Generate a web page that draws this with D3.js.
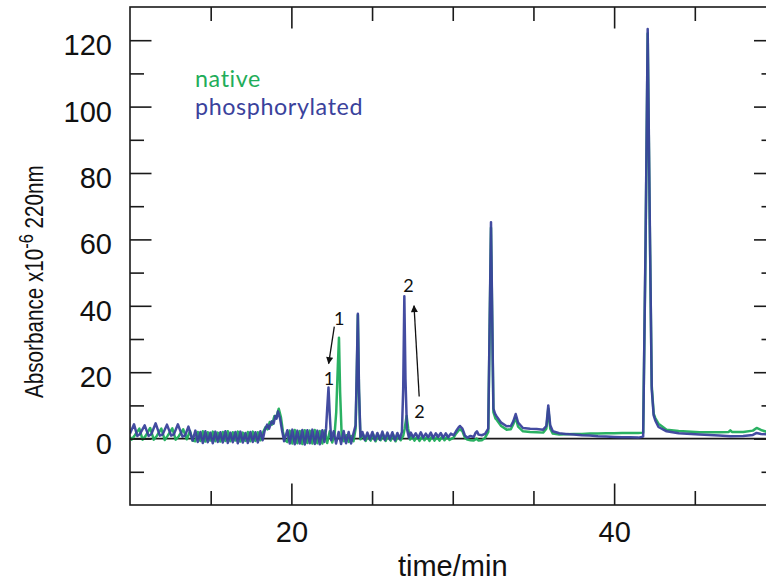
<!DOCTYPE html>
<html><head><meta charset="utf-8">
<script src="https://cdn.jsdelivr.net/npm/d3@7"></script>
<style>
html,body{margin:0;padding:0;background:#fff;}
svg{display:block;}
</style></head>
<body>
<svg id="chart" width="766" height="581"></svg>
<script>
// ---------- DATA ----------
const seriesNames = ["native", "phosphorylated"];
const seriesColors = ["#1fad5a", "#3a429c"];

const yMajorTicks = [0, 20, 40, 60, 80, 100, 120];
const yMinorTicks = [-10, 10, 30, 50, 70, 90, 110];
const xMajorTicks = [20, 40];
const xMinorTicks = [15, 25, 30, 35, 45];

// [time/min, absorbance]
const nativeData = [
[10.00,0.5],[10.10,-0.3],[10.30,1.0],[10.58,3.0],[10.78,-0.3],[10.98,0.9],[11.25,3.2],[11.47,-0.3],[11.66,0.8],[11.94,3.0],[12.15,-0.4],[12.34,0.9],[12.62,3.1],[12.83,-0.3],[13.02,0.7],[13.30,2.8],[13.52,-0.2],[13.72,2.3],[13.88,-0.6],
[14.05,-0.8],[14.20,2.0],[14.36,-0.7],[14.51,2.2],[14.67,-0.9],[14.82,1.9],[14.98,-0.6],[15.13,2.1],[15.29,-0.8],[15.44,1.8],[15.60,-0.9],[15.75,2.0],[15.91,-0.7],[16.06,2.2],[16.22,-0.8],[16.37,1.9],[16.53,-0.6],[16.68,2.1],[16.84,-0.9],[16.99,1.8],[17.15,-0.7],[17.30,2.0],[17.46,-0.8],[17.61,2.1],[17.77,-0.7],[17.92,1.9],[18.08,-0.5],
[18.25,2.0],[18.40,3.5],[18.52,2.8],[18.66,5.0],[18.80,4.2],[18.95,6.8],[19.05,6.2],[19.22,9.0],[19.35,6.5],[19.48,2.0],[19.60,-0.5],
[19.75,-1.0],[19.90,2.4],[20.06,-1.5],[20.21,2.6],[20.37,-1.4],[20.52,2.3],[20.68,-1.6],[20.83,2.5],[20.99,-1.3],[21.14,2.4],[21.30,-1.5],[21.45,2.6],[21.61,-1.4],[21.76,2.3],[21.92,-1.5],[22.07,2.4],[22.22,-1.3],[22.38,2.2],[22.53,-1.2],[22.68,1.5],
[22.78,8],[22.88,22],[22.95,30.4],[23.02,14],[23.12,0.5],
[23.25,-0.8],[23.40,1.0],[23.55,-1.0],[23.70,0.8],[23.85,-0.8],
[23.98,3],[24.05,18],[24.12,37.2],[24.19,14],[24.28,-0.2],
[24.45,1.2],[24.60,-0.7],[24.76,1.0],[24.91,-0.6],[25.07,1.3],[25.22,-0.8],[25.38,1.1],[25.53,-0.5],[25.69,1.2],[25.84,-0.7],[26.00,1.0],[26.15,-0.6],[26.31,1.2],[26.46,-0.8],[26.62,1.0],[26.77,-0.5],[26.93,0.8],
[27.02,3],[27.14,6.8],[27.24,3],[27.35,-0.3],
[27.48,0.8],[27.63,-0.6],[27.79,0.6],[27.94,-0.7],[28.10,0.7],[28.25,-0.5],[28.41,0.6],[28.56,-0.7],[28.72,0.8],[28.87,-0.6],[29.03,0.5],[29.18,-0.6],[29.34,0.7],[29.49,-0.5],[29.65,0.6],[29.80,-0.4],
[30.05,0.3],[30.20,1.5],[30.35,2.4],[30.45,2.8],[30.60,2.2],[30.75,0.3],[30.90,-0.3],[31.10,-0.5],[31.30,-0.6],[31.48,0.0],[31.60,-0.6],[31.80,-0.5],[32.00,0.2],[32.20,2.0],[32.37,63.5],[32.52,8],[32.65,6.0],[32.72,5.7],[33.00,3.8],[33.34,2.7],[33.60,2.8],[33.75,4.3],[33.90,6.3],[34.05,3.6],[34.35,2.2],[34.80,2.0],[35.20,1.9],[35.60,1.8],[35.80,3.0],[35.92,9.0],[36.04,3.0],[36.20,1.5],[36.60,1.2],[37.00,1.3],[37.50,1.4],[38.00,1.4],[38.50,1.5],[39.00,1.5],[39.50,1.6],[40.00,1.6],[40.50,1.7],[41.00,1.7],[41.50,1.7],[41.80,1.8],
[41.95,58],[42.08,122],[42.20,68],[42.33,16],[42.45,7.5],[42.55,6.2],[42.75,4.5],[43.25,2.7],[44.00,2.3],[45.30,1.9],[46.50,1.9],[47.10,2.0],[47.20,2.5],[47.30,2.0],[48.00,2.0],[48.60,2.4],[48.83,3.2],[49.10,2.6],[49.60,1.8]
];

const phosData = [
[10.00,1.5],[10.25,4.3],[10.45,0.8],[10.62,1.4],[10.91,4.0],[11.15,0.8],[11.32,1.3],[11.59,4.6],[11.85,0.9],[12.02,1.2],[12.29,4.2],[12.55,0.9],[12.72,1.3],[12.97,4.3],[13.25,0.6],[13.42,1.0],[13.62,3.6],[13.88,-0.6],
[14.05,2.4],[14.20,-1.0],[14.36,2.0],[14.51,-1.3],[14.67,2.2],[14.82,-1.1],[14.98,1.8],[15.13,-1.4],[15.29,2.1],[15.44,-1.0],[15.60,1.9],[15.75,-1.2],[15.91,2.2],[16.06,-1.3],[16.22,1.8],[16.37,-1.1],[16.53,2.0],[16.68,-1.4],[16.84,2.1],[16.99,-1.2],[17.15,1.7],[17.30,-1.3],[17.46,2.0],[17.61,-1.0],[17.77,1.9],[17.92,-1.2],[18.08,2.2],[18.22,-0.5],
[18.35,2.5],[18.50,4.2],[18.62,3.0],[18.78,5.2],[18.90,4.5],[19.00,6.8],[19.08,6.0],[19.17,8.2],[19.30,6.0],[19.42,2.5],[19.55,-0.8],
[19.75,2.5],[19.90,-1.5],[20.06,2.7],[20.21,-1.7],[20.37,2.4],[20.52,-1.5],[20.68,2.6],[20.83,-1.8],[20.99,2.5],[21.14,-1.4],[21.30,2.7],[21.45,-1.6],[21.61,2.4],[21.76,-1.7],[21.92,2.5],[22.05,-1.0],
[22.15,3],[22.22,9],[22.30,15.4],[22.38,7],[22.47,-0.5],
[22.62,2.2],[22.77,-1.5],[22.93,2.0],[23.08,-1.6],[23.24,2.3],[23.39,-1.4],[23.55,2.0],[23.70,-1.5],[23.86,1.8],
[23.98,4],[24.05,20],[24.12,37.6],[24.19,15],[24.28,0.5],
[24.40,2.0],[24.55,-0.4],[24.71,1.8],[24.86,-0.2],[25.02,2.0],[25.17,-0.5],[25.33,1.7],[25.48,-0.3],[25.64,2.1],[25.79,-0.4],[25.95,1.8],[26.10,-0.2],[26.26,1.9],[26.41,-0.5],[26.57,1.7],[26.72,-0.1],
[26.85,2],[26.93,15],[27.00,42.9],[27.07,18],[27.16,3],[27.28,0.3],
[27.40,1.8],[27.55,0.4],[27.71,1.6],[27.86,0.2],[28.02,1.9],[28.17,0.3],[28.33,1.5],[28.48,0.4],[28.64,1.8],[28.79,0.2],[28.95,1.6],[29.10,0.5],[29.26,1.7],[29.41,0.3],[29.57,1.6],[29.72,0.4],[29.88,1.5],
[30.05,1.0],[30.20,2.2],[30.35,3.3],[30.45,3.8],[30.60,3.0],[30.75,1.0],[30.90,0.3],[31.10,0.8],[31.30,0.5],[31.42,1.8],[31.50,2.2],[31.60,1.2],[31.80,1.0],[32.00,1.4],[32.20,3.0],[32.37,65.2],[32.52,9],[32.62,7.5],[32.72,6.7],[33.00,4.8],[33.34,3.7],[33.60,3.8],[33.75,5.2],[33.90,7.4],[34.05,4.8],[34.35,3.2],[34.80,3.0],[35.20,2.9],[35.60,2.7],[35.80,3.8],[35.92,10.0],[36.04,4.0],[36.20,2.2],[36.60,1.6],[37.00,1.4],[37.50,1.2],[38.00,1.0],[38.50,0.9],[39.00,0.7],[39.50,0.6],[40.00,0.5],[40.50,0.4],[41.00,0.4],[41.50,0.3],[41.80,0.6],
[41.95,60],[42.08,123.4],[42.20,70],[42.33,15],[42.45,7],[42.55,5.5],[42.75,3.5],[43.25,2.2],[44.00,1.6],[45.30,1.2],[46.50,0.9],[47.20,0.7],[48.00,0.8],[48.60,1.1],[48.83,1.7],[49.10,1.4],[49.60,1.2]
];

// annotation labels [time, absorbance, text]
const peakLabels = [[22.97, 34.3, "1"], [22.33, 16.0, "1"], [27.26, 44.3, "2"], [27.94, 6.2, "2"]];
// arrows [fromTime, fromAbs, toTime, toAbs]
const peakArrows = [[22.66, 33.7, 22.31, 22.6], [27.92, 12.7, 27.60, 40.0]];

// ---------- CHART ----------
(function () {
const svg = d3.select("#chart");
const pLeft = 130, pRight = 775.5, pTop = 7, pBottom = 505;
const x = d3.scaleLinear().domain([10, 50]).range([pLeft, pRight]);
const y = d3.scaleLinear().domain([-20, 130]).range([pBottom, pTop]);
const axisColor = "#1a1a1a";
const tickFont = "Liberation Sans, Arial, Helvetica, sans-serif";

const defs = svg.append("defs");
defs.append("clipPath").attr("id", "plotclip")
  .append("rect").attr("x", pLeft).attr("y", pTop).attr("width", pRight - pLeft).attr("height", pBottom - pTop);

// zero line
svg.append("line").attr("x1", pLeft).attr("x2", pRight).attr("y1", y(0)).attr("y2", y(0))
  .attr("stroke", axisColor).attr("stroke-width", 1.6);

// traces
const line = d3.line().x(d => x(d[0])).y(d => y(d[1]));
const g = svg.append("g").attr("clip-path", "url(#plotclip)");
[nativeData, phosData].forEach((data, i) => {
  g.append("path").datum(data).attr("d", line).attr("fill", "none")
    .attr("stroke", seriesColors[i]).attr("stroke-width", 2.5)
    .attr("stroke-linejoin", "round").attr("opacity", 0.95);
});

// axes
function styleAxis(sel) {
  sel.select(".domain").remove();
  sel.selectAll(".tick line").attr("stroke", axisColor).attr("stroke-width", 1.6);
  sel.selectAll("text").attr("fill", "#111").style("font-family", tickFont).style("font-size", "29px");
}
const majorLen = 21.5, minorLen = 14;
svg.append("g").attr("transform", `translate(${pLeft},0)`)
  .call(d3.axisLeft(y).tickValues(yMajorTicks).tickSize(-majorLen).tickPadding(18).tickFormat(d3.format("d")))
  .call(styleAxis).call(s => s.selectAll("text").attr("dy", "0.5em"));
svg.append("g").attr("transform", `translate(${pLeft},0)`)
  .call(d3.axisLeft(y).tickValues(yMinorTicks).tickSize(-minorLen).tickFormat(""))
  .call(styleAxis);
svg.append("g").attr("transform", `translate(${pRight},0)`)
  .call(d3.axisRight(y).tickValues(yMajorTicks).tickSize(-majorLen).tickFormat(""))
  .call(styleAxis);
svg.append("g").attr("transform", `translate(${pRight},0)`)
  .call(d3.axisRight(y).tickValues(yMinorTicks).tickSize(-minorLen).tickFormat(""))
  .call(styleAxis);
svg.append("g").attr("transform", `translate(0,${pBottom})`)
  .call(d3.axisBottom(x).tickValues(xMajorTicks).tickSize(-majorLen).tickPadding(16.5).tickFormat(d3.format("d")))
  .call(styleAxis);
svg.append("g").attr("transform", `translate(0,${pBottom})`)
  .call(d3.axisBottom(x).tickValues(xMinorTicks).tickSize(-minorLen).tickFormat(""))
  .call(styleAxis);
svg.append("g").attr("transform", `translate(0,${pTop})`)
  .call(d3.axisTop(x).tickValues(xMajorTicks).tickSize(-majorLen).tickFormat(""))
  .call(styleAxis);
svg.append("g").attr("transform", `translate(0,${pTop})`)
  .call(d3.axisTop(x).tickValues(xMinorTicks).tickSize(-minorLen).tickFormat(""))
  .call(styleAxis);

// frame
svg.append("rect").attr("x", pLeft).attr("y", pTop).attr("width", pRight - pLeft).attr("height", pBottom - pTop)
  .attr("fill", "none").attr("stroke", axisColor).attr("stroke-width", 1.6);

// axis titles
svg.append("text").attr("x", (pLeft + pRight) / 2).attr("y", 575.5).attr("text-anchor", "middle")
  .style("font-family", tickFont).style("font-size", "29px").attr("fill", "#111").text("time/min");

const yt = svg.append("text").attr("transform", "translate(43,398) rotate(-90) scale(0.78,1)")
  .style("font-family", tickFont).style("font-size", "26.5px").attr("fill", "#111");
yt.append("tspan").text("Absorbance x10");
yt.append("tspan").attr("dy", -10).style("font-size", "21px").text("-6");
yt.append("tspan").attr("dy", 10).text(" 220nm");

// legend
const legendFont = "Lato, 'Open Sans', sans-serif";
seriesNames.forEach((n, i) => {
  svg.append("text").attr("x", 195).attr("y", 87 + i * 28)
    .style("font-family", legendFont).style("font-size", "23.3px")
    .style("letter-spacing", "0.6px")
    .attr("fill", seriesColors[i]).text(n);
});

// peak annotations
defs.append("marker").attr("id", "arrowhead")
  .attr("viewBox", "0 0 10 10").attr("refX", 9).attr("refY", 5)
  .attr("markerWidth", 9).attr("markerHeight", 7).attr("markerUnits", "userSpaceOnUse")
  .attr("orient", "auto")
  .append("path").attr("d", "M0,0 L10,5 L0,10 Z").attr("fill", "#111");
peakArrows.forEach(a => {
  svg.append("line").attr("x1", x(a[0])).attr("y1", y(a[1])).attr("x2", x(a[2])).attr("y2", y(a[3]))
    .attr("stroke", "#111").attr("stroke-width", 1.3).attr("marker-end", "url(#arrowhead)");
});
peakLabels.forEach(l => {
  svg.append("text").attr("x", x(l[0])).attr("y", y(l[1])).attr("text-anchor", "middle")
    .style("font-family", legendFont).style("font-size", "18px").attr("fill", "#111").text(l[2]);
});
})();
</script>
</body></html>
